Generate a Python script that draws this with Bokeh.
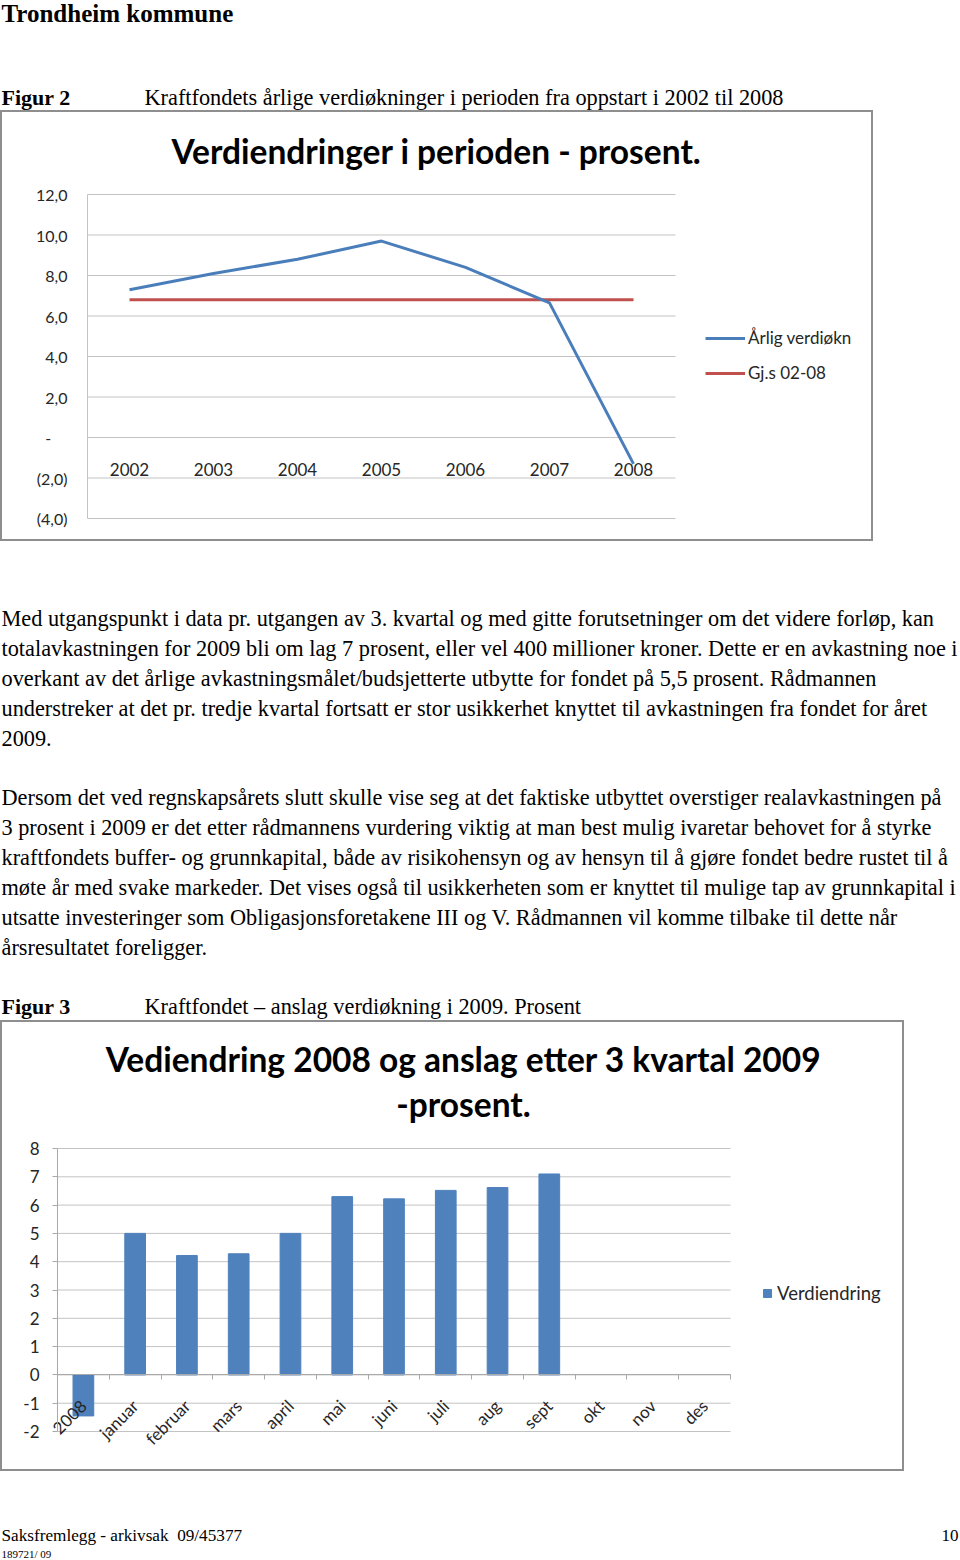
import math
from bokeh.plotting import figure
from bokeh.models import (ColumnDataSource, Range1d, FixedTicker,
                          Legend, LegendItem, Label, Spacer)
from bokeh.layouts import column, row
from bokeh.core.properties import value
from bokeh.embed import file_html
from bokeh.resources import INLINE

# ---------------- data: Figur 2 (line chart) ----------------
years = ["2002", "2003", "2004", "2005", "2006", "2007", "2008"]
arlig_verdiokning = [7.3, 8.1, 8.8, 9.7, 8.4, 6.65, -1.3]
gjsnitt_02_08 = [6.8, 6.8, 6.8, 6.8, 6.8, 6.8, 6.8]
fig2_y_ticks = [-4, -2, 0, 2, 4, 6, 8, 10, 12]
fig2_y_labels = ["(4,0)", "(2,0)", "-\u00a0\u00a0\u00a0\u00a0", "2,0", "4,0", "6,0", "8,0", "10,0", "12,0"]
fig2_title = "Verdiendringer i perioden - prosent."
fig2_series = ["Årlig verdiøkn", "Gj.s 02-08"]

# ---------------- data: Figur 3 (bar chart) ----------------
months = ["2008", "januar", "februar", "mars", "april", "mai", "juni", "juli",
          "aug", "sept", "okt", "nov", "des"]
verdiendring = [-1.45, 5.0, 4.22, 4.28, 5.0, 6.3, 6.22, 6.52, 6.62, 7.1,
                math.nan, math.nan, math.nan]
fig3_y_ticks = [-2, -1, 0, 1, 2, 3, 4, 5, 6, 7, 8]
fig3_y_labels = ["-2", "-1", "0", "1", "2", "3", "4", "5", "6", "7", "8"]
fig3_title = ["Vediendring 2008 og anslag etter 3 kvartal 2009", "-prosent."]
fig3_series = "Verdiendring"

# ---------------- page text ----------------
header = "Trondheim kommune"
fig2_caption = ["Figur 2", "Kraftfondets årlige verdiøkninger i perioden fra oppstart i 2002 til 2008"]
paragraph1 = [
    "Med utgangspunkt i data pr. utgangen av 3. kvartal og med gitte forutsetninger om det videre forløp, kan",
    "totalavkastningen for 2009 bli om lag 7 prosent, eller vel 400 millioner kroner. Dette er en avkastning noe i",
    "overkant av det årlige avkastningsmålet/budsjetterte utbytte for fondet på 5,5 prosent. Rådmannen",
    "understreker at det pr. tredje kvartal fortsatt er stor usikkerhet knyttet til avkastningen fra fondet for året",
    "2009.",
]
paragraph2 = [
    "Dersom det ved regnskapsårets slutt skulle vise seg at det faktiske utbyttet overstiger realavkastningen på",
    "3 prosent i 2009 er det etter rådmannens vurdering viktig at man best mulig ivaretar behovet for å styrke",
    "kraftfondets buffer- og grunnkapital, både av risikohensyn og av hensyn til å gjøre fondet bedre rustet til å",
    "møte år med svake markeder. Det vises også til usikkerheten som er knyttet til mulige tap av grunnkapital i",
    "utsatte investeringer som Obligasjonsforetakene III og V. Rådmannen vil komme tilbake til dette når",
    "årsresultatet foreligger.",
]
fig3_caption = ["Figur 3", "Kraftfondet – anslag verdiøkning i 2009. Prosent"]
footer_left = "Saksfremlegg - arkivsak \u00a009/45377"
footer_id = "189721/ 09"
page_number = "10"

# ---------------- styles ----------------
SERIF = "Liberation Serif"
CHART_FONT = "Lato"
BODY_SIZE = "22.3px"
TITLE_SIZE = "33.5px"
BLUE = "#4a7ebb"
RED = "#c0504d"
BAR = "#4f81bd"
GRID = "#c3c3c3"
AXIS = "#a9a9a9"
LABEL = "#262626"
BOX = "#8e8e8e"


def page_fig(w, h):
    p = figure(width=w, height=h, x_range=Range1d(0, w), y_range=Range1d(h, 0),
               x_axis_type=None, y_axis_type=None, output_backend="svg",
               toolbar_location=None, min_border=0)
    p.grid.visible = False
    p.outline_line_color = None
    return p


def chart_fig(w, h, box, n_slots, y_lo, y_hi):
    """Figure whose frame is the whole chart box; the plot area (box in px) maps to
    category slots 0..n_slots and values y_lo..y_hi."""
    left, right, top, bottom = box
    px_x = (right - left) / n_slots
    px_y = (bottom - top) / (y_hi - y_lo)
    p = figure(width=w, height=h,
               x_range=Range1d(-left / px_x, n_slots + (w - right) / px_x),
               y_range=Range1d(y_lo - (h - bottom) / px_y, y_hi + top / px_y),
               output_backend="svg", toolbar_location=None, min_border=0)
    p.grid.visible = False
    p.outline_line_color = BOX
    p.outline_line_width = 3
    p.background_fill_color = "white"
    return p


# ---------------- header ----------------
ph = page_fig(960, 110)
ph.text(x=[1], y=[13], text=[header], text_font=value(SERIF), text_font_style="bold",
        text_font_size="25px", text_baseline="middle", text_color="black")
ph.text(x=[1], y=[97], text=[fig2_caption[0]], text_font=value(SERIF), text_font_style="bold",
        text_font_size="22px", text_baseline="middle", text_color="black")
ph.text(x=[144], y=[97], text=[fig2_caption[1]], text_font=value(SERIF),
        text_font_size=BODY_SIZE, text_baseline="middle", text_color="black")

# ---------------- Figur 2 chart ----------------
W1, H1 = 873, 431
slots1 = [i + 0.5 for i in range(len(years))]
p1 = chart_fig(W1, H1, (87, 675, 84, 408), len(years), fig2_y_ticks[0], fig2_y_ticks[-1])
src1 = ColumnDataSource(dict(x=slots1, arlig=arlig_verdiokning, snitt=gjsnitt_02_08))

# horizontal gridlines across the plot area
p1.segment(x0=[0] * len(fig2_y_ticks), x1=[len(years)] * len(fig2_y_ticks),
           y0=fig2_y_ticks, y1=fig2_y_ticks, line_color=GRID, line_width=1)

ax1 = p1.yaxis[0]
ax1.fixed_location = 0
ax1.bounds = (fig2_y_ticks[0], fig2_y_ticks[-1])
ax1.ticker = FixedTicker(ticks=fig2_y_ticks)
ax1.major_label_overrides = dict(zip(fig2_y_ticks, fig2_y_labels))
ax1.major_tick_out = 0
ax1.major_tick_in = 0
ax1.minor_tick_out = 0
ax1.minor_tick_in = 0
ax1.axis_line_color = GRID
ax1.major_label_standoff = 20
ax1.major_label_text_font = CHART_FONT
ax1.major_label_text_font_size = "16px"
ax1.major_label_text_color = LABEL

bx1 = p1.xaxis[0]
bx1.fixed_location = 0
bx1.bounds = (0, len(years))
bx1.ticker = FixedTicker(ticks=slots1)
bx1.major_label_overrides = dict(zip(slots1, years))
bx1.axis_line_color = None
bx1.major_tick_out = 0
bx1.major_tick_in = 0
bx1.minor_tick_out = 0
bx1.minor_tick_in = 0
bx1.major_label_standoff = 25
bx1.major_label_text_font = CHART_FONT
bx1.major_label_text_font_size = "17px"
bx1.major_label_text_color = LABEL

r_red = p1.line("x", "snitt", source=src1, line_color=RED, line_width=3)
r_blue = p1.line("x", "arlig", source=src1, line_color=BLUE, line_width=3)

p1.add_layout(Label(x=436, y=H1 - 40, x_units="screen", y_units="screen", text=fig2_title,
                    text_font=CHART_FONT, text_font_style="bold", text_font_size=TITLE_SIZE,
                    text_color="black", text_align="center", text_baseline="middle"))
leg1 = Legend(items=[LegendItem(label=fig2_series[0], renderers=[r_blue]),
                     LegendItem(label=fig2_series[1], renderers=[r_red])],
              location=(705, H1 - 273), orientation="vertical", glyph_width=40, glyph_height=20,
              label_height=20, label_standoff=3, spacing=14, padding=0, margin=0,
              border_line_color=None, background_fill_alpha=0,
              label_text_font=CHART_FONT, label_text_font_size="17px", label_text_color=LABEL)
p1.add_layout(leg1)

# ---------------- body text ----------------
pb = page_fig(960, 479)
pb.text(x=[1] * len(paragraph1), y=[77 + 30 * i for i in range(len(paragraph1))], text=paragraph1,
        text_font=value(SERIF), text_font_size=BODY_SIZE, text_baseline="middle", text_color="black")
pb.text(x=[1] * len(paragraph2), y=[256 + 30 * i for i in range(len(paragraph2))], text=paragraph2,
        text_font=value(SERIF), text_font_size=BODY_SIZE, text_baseline="middle", text_color="black")
pb.text(x=[1], y=[465], text=[fig3_caption[0]], text_font=value(SERIF), text_font_style="bold",
        text_font_size="22px", text_baseline="middle", text_color="black")
pb.text(x=[144], y=[465], text=[fig3_caption[1]], text_font=value(SERIF),
        text_font_size=BODY_SIZE, text_baseline="middle", text_color="black")

# ---------------- Figur 3 chart ----------------
W2, H2 = 904, 451
slots2 = [i + 0.5 for i in range(len(months))]
edges2 = list(range(len(months) + 1))
p2 = chart_fig(W2, H2, (57, 730, 128, 411), len(months), fig3_y_ticks[0], fig3_y_ticks[-1])
src2 = ColumnDataSource(dict(x=slots2, value=verdiendring))

p2.segment(x0=[0] * len(fig3_y_ticks), x1=[len(months)] * len(fig3_y_ticks),
           y0=fig3_y_ticks, y1=fig3_y_ticks, line_color=GRID, line_width=1)

ax2 = p2.yaxis[0]
ax2.fixed_location = 0
ax2.bounds = (fig3_y_ticks[0], fig3_y_ticks[-1])
ax2.ticker = FixedTicker(ticks=fig3_y_ticks)
ax2.major_label_overrides = dict(zip(fig3_y_ticks, fig3_y_labels))
ax2.major_tick_out = 5
ax2.major_tick_in = 0
ax2.minor_tick_out = 0
ax2.minor_tick_in = 0
ax2.axis_line_color = AXIS
ax2.major_tick_line_color = AXIS
ax2.major_label_standoff = 13
ax2.major_label_text_font = CHART_FONT
ax2.major_label_text_font_size = "17px"
ax2.major_label_text_color = LABEL

bx2 = p2.xaxis[0]
bx2.fixed_location = 0
bx2.bounds = (0, len(months))
bx2.ticker = FixedTicker(ticks=slots2, minor_ticks=edges2)
bx2.major_label_overrides = dict(zip(slots2, months))
bx2.major_label_orientation = math.pi / 4
bx2.axis_line_color = AXIS
bx2.major_tick_out = 0
bx2.major_tick_in = 0
bx2.minor_tick_out = 5
bx2.minor_tick_in = 0
bx2.minor_tick_line_color = AXIS
bx2.major_label_standoff = 23
bx2.major_label_text_font = CHART_FONT
bx2.major_label_text_font_size = "17px"
bx2.major_label_text_color = LABEL

r_bar = p2.vbar(x="x", top="value", width=0.4, source=src2, fill_color=BAR, line_color=BAR)

for i, line in enumerate(fig3_title):
    p2.add_layout(Label(x=463, y=H2 - 38 - 45 * i, x_units="screen", y_units="screen", text=line,
                        text_font=CHART_FONT, text_font_style="bold", text_font_size=TITLE_SIZE,
                        text_color="black", text_align="center", text_baseline="middle"))
leg2 = Legend(items=[LegendItem(label=fig3_series, renderers=[r_bar])],
              location=(762, H2 - 284), glyph_width=10, glyph_height=10, label_height=10,
              label_standoff=5, padding=0, margin=0, border_line_color=None,
              background_fill_alpha=0, label_text_font=CHART_FONT,
              label_text_font_size="18.5px", label_text_color=LABEL)
p2.add_layout(leg2)

# ---------------- footer ----------------
pf = page_fig(960, 89)
pf.text(x=[1], y=[64], text=[footer_left], text_font=value(SERIF), text_font_size="17.2px",
        text_baseline="middle", text_color="black")
pf.text(x=[1], y=[82], text=[footer_id], text_font=value(SERIF), text_font_size="11px",
        text_baseline="middle", text_color="black")
pf.text(x=[958], y=[64], text=[page_number], text_font=value(SERIF), text_font_size="17px",
        text_baseline="middle", text_align="right", text_color="black")

layout = column(ph,
                row(p1, Spacer(width=960 - W1, height=H1)),
                pb,
                row(p2, Spacer(width=960 - W2, height=H2)),
                pf)

open("out.html", "w").write(file_html(layout, INLINE))
